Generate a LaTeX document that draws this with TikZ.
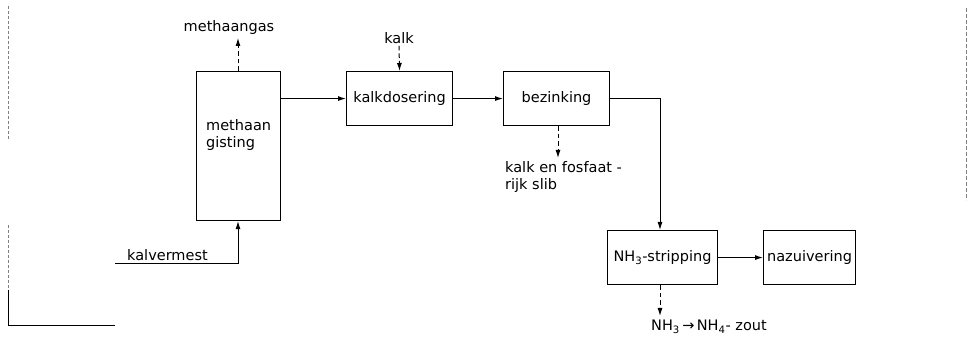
\documentclass[tikz,border=0pt]{standalone}
\usepackage{fontspec}
\setmainfont{DejaVu Sans}
\usetikzlibrary{arrows.meta}
\begin{document}
\begin{tikzpicture}[x=1pt,y=-1pt,
  every node/.style={font=\fontsize{14.5}{17.5}\selectfont},
  proc/.style={draw,line width=1.1pt,rectangle,inner sep=0pt,anchor=north west},
  flow/.style={line width=1pt,-{Latex[length=8pt,width=5pt]}},
  side/.style={flow,dash pattern=on 4.5pt off 3pt},
  lbl/.style={inner sep=0pt},
  scan/.style={line width=0.6pt,gray}]
\useasboundingbox (0,0) rectangle (970,352);
% scan border remnants
\draw[scan,dash pattern=on 3pt off 2pt] (8,6) -- (8,140);
\draw[scan,dash pattern=on 3pt off 2pt] (8,225) -- (8,290);
\draw[line width=0.9pt] (8,290) -- (8,325) -- (115,325);
\draw[scan,dash pattern=on 4pt off 2pt] (966,8) -- (966,200);
% process boxes
\node[proc,minimum width=84pt,minimum height=149pt] (mg) at (196,71) {};
\node[lbl,anchor=north west,align=left] (mgt) at (206,119) {methaan\\gisting};
\node[proc,minimum width=106pt,minimum height=54pt] (kd) at (346,71) {};
\node[lbl] (kdt) at (kd.center) {kalkdosering};
\node[proc,minimum width=106pt,minimum height=54pt] (bz) at (503,71) {};
\node[lbl] (bzt) at (bz.center) {bezinking};
\node[proc,minimum width=110pt,minimum height=54pt] (ns) at (607,230) {};
\node[lbl] (nst) at (ns.center) {NH\textsubscript{3}-stripping};
\node[proc,minimum width=92pt,minimum height=54pt] (nz) at (763,230) {};
\node[lbl] (nzt) at (nz.center) {nazuivering};
% labels
\node[lbl] (gas) at (229,28) {methaangas};
\node[lbl] (kalk) at (399,38) {kalk};
\node[lbl,anchor=north west,align=left] (slib) at (505,161) {kalk en fosfaat -\\rijk slib};
\node[lbl,anchor=south west] (kv) at (127,261) {kalvermest};
\node[lbl,anchor=west] (zout) at (651,327) {NH\textsubscript{3}\,→\,NH\textsubscript{4}- zout};
\coordinate (kvin) at (115,264);
\coordinate (kvc) at (238,264);
\coordinate (bzc) at (660,97);
% flows
\draw[flow] (kvin) -- (kvc) -- (mg.south -| kvc);
\draw[side] (mg.north -| kvc) -- (238,38);
\draw[flow] (mg.east |- kd.west) -- (kd.west);
\draw[side] (kalk.south) ++(0,2) -- (kd.north);
\draw[flow] (kd.east) -- (bz.west);
\draw[side] (bz.south -| 558,0) -- (558,158);
\draw[flow] (bz.east) -- (bz.east -| bzc) -- (ns.north -| bzc);
\draw[flow] (ns.east) -- (nz.west);
\draw[side] (ns.south -| bzc) -- (660,316);
\end{tikzpicture}
\end{document}
